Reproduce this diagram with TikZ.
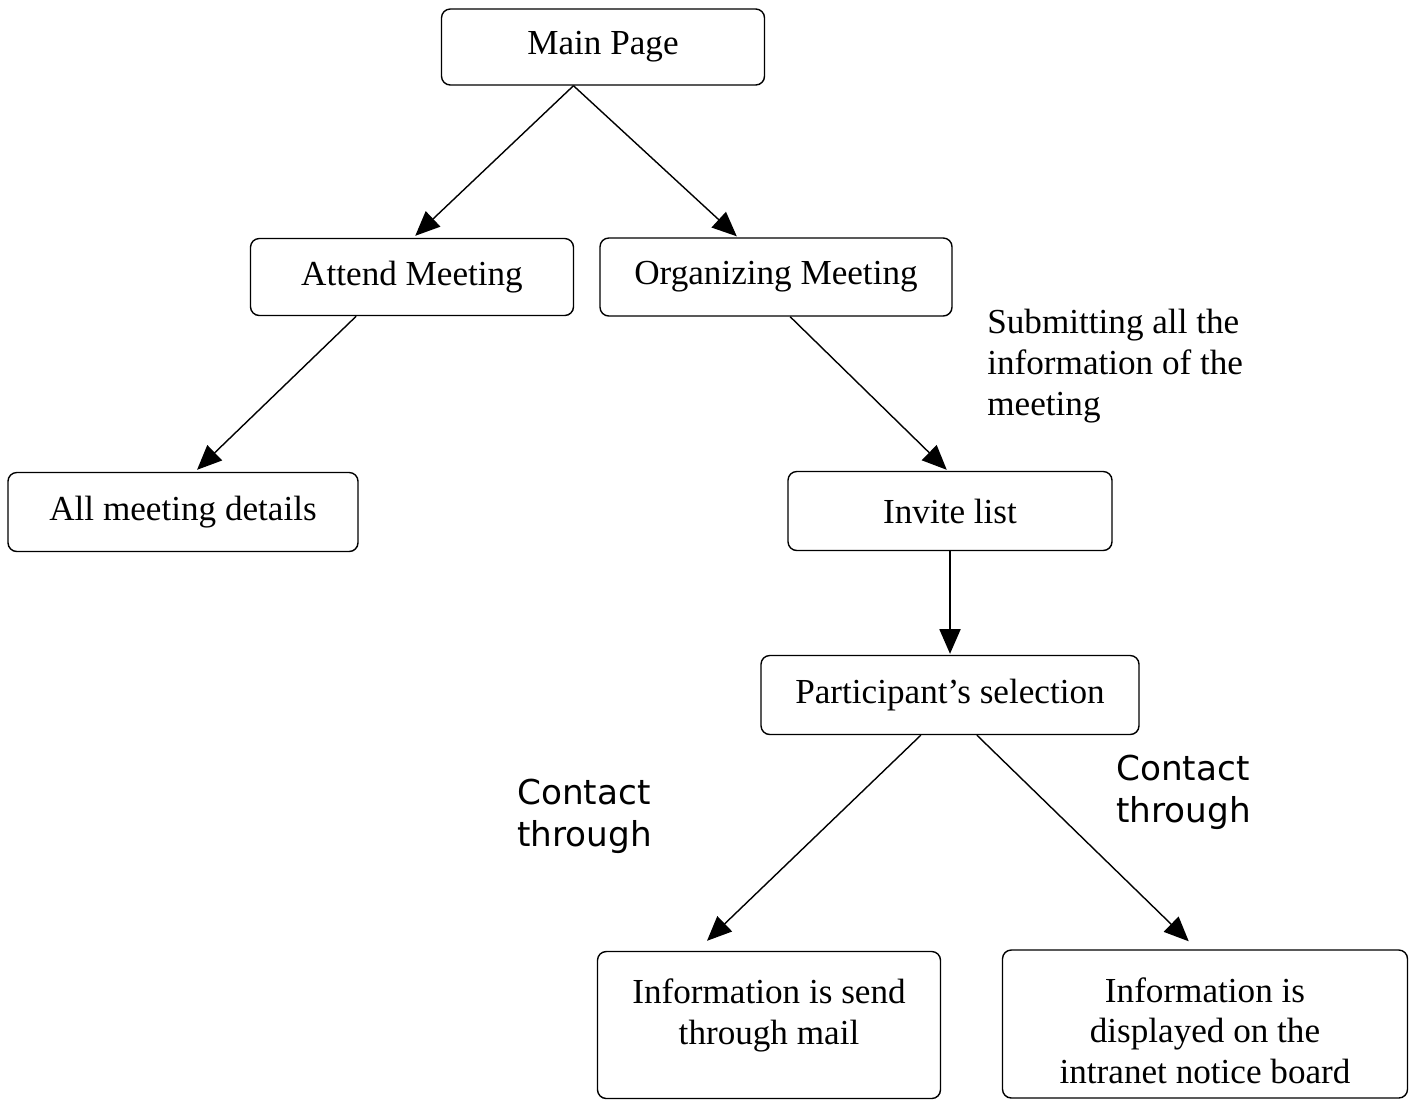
\documentclass[tikz,border=0pt]{standalone}
\usepackage{fontspec}
\setmainfont{Liberation Serif}
\newfontfamily\labelfont{DejaVu Sans}
\usetikzlibrary{arrows.meta,calc}

\begin{document}
\begin{tikzpicture}[x=0.02cm,y=-0.02cm,
  box/.style 2 args={draw=black, line width=0.8pt, rounded corners=5pt,
    minimum width=#1*0.02cm, minimum height=#2*0.02cm, inner sep=0pt,
    align=center, font=\fontsize{20}{23.2}\selectfont},
  link/.style={line width=0.8pt, -{Triangle[length=14pt,width=12pt]}},
  note/.style={inner sep=0pt, align=left, anchor=west,
    font=\fontsize{20}{23.2}\selectfont},
  sidenote/.style={inner sep=0pt, align=left, anchor=west,
    font=\labelfont\fontsize{19.5}{23.8}\selectfont}
]
\useasboundingbox (0,0) rectangle (1415,1100);

% boxes
\node[box={323}{76}] (main)   at (603,47)   {Main Page};
\node[box={323}{77}] (attend) at (412,277)  {Attend Meeting};
\node[box={352}{78}] (org)    at (776,277)  {Organizing Meeting};
\node[box={350}{79}] (all)    at (183,512)  {All meeting details};
\node[box={324}{79}] (invite) at (950,511)  {Invite list};
\node[box={378}{79}] (part)   at (950,695)  {Participant’s selection};
\node[box={343}{147}] (mail)  at (769,1025) {Information is send\\through mail\\[-8pt]\mbox{}};
\node[box={405}{148}] (board) at (1205,1024) {\mbox{}\\[-1.6pt]Information is\\displayed on the\\intranet notice board};

% side texts
\node[note] (submit) at (987,366) {Submitting all the\\information of the\\meeting};
\node[sidenote] (contactA) at (517,816) {Contact\\through};
\node[sidenote] (contactB) at (1116,792) {Contact\\through};

% connectors
\coordinate (mainOut) at ($(main.south west)!0.409!(main.south east)$);
\draw[link] (mainOut) -- ($(attend.north west)!0.51!(attend.north east)+(0,-2)$);
\draw[link] (mainOut) -- ($(org.north west)!0.389!(org.north east)+(0,-1)$);
\draw[link] ($(attend.south west)!0.328!(attend.south east)$) -- ($(all.north west)!0.54!(all.north east)+(0,-2)$);
\draw[link] ($(org.south west)!0.54!(org.south east)$) -- ($(invite.north west)!0.49!(invite.north east)+(0,-1)$);
\draw[link] (invite.south) -- ($(part.north)+(0,-1)$);
\draw[link] ($(part.south west)!0.423!(part.south east)$) -- ($(mail.north west)!0.32!(mail.north east)+(0,-10)$);
\draw[link] ($(part.south west)!0.571!(part.south east)$) -- ($(board.north west)!0.46!(board.north east)+(0,-8)$);
\end{tikzpicture}
\end{document}
